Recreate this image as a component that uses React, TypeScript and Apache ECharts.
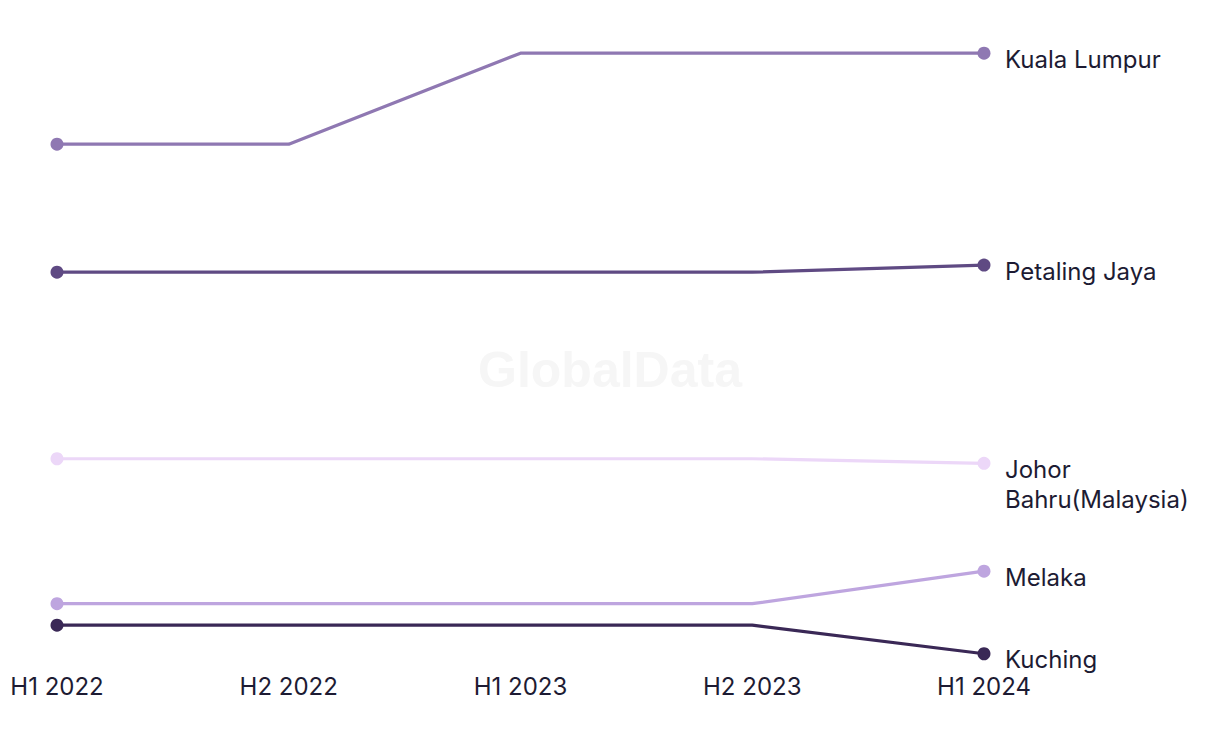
import React, { useEffect, useRef } from "react";
import * as echarts from "echarts";

const categories = ["H1 2022", "H2 2022", "H1 2023", "H2 2023", "H1 2024"];
const seriesNames = ["Kuala Lumpur", "Petaling Jaya", "Johor Bahru(Malaysia)", "Melaka", "Kuching"];
const endLabels = ["Kuala Lumpur", "Petaling Jaya", "Johor\nBahru(Malaysia)", "Melaka", "Kuching"];
const kualaLumpur = [80.9, 80.9, 94.9, 94.9, 94.9];
const petalingJaya = [61.2, 61.2, 61.2, 61.2, 62.3];
const johorBahru = [32.5, 32.5, 32.5, 32.5, 31.8];
const melaka = [10.2, 10.2, 10.2, 10.2, 15.2];
const kuching = [6.9, 6.9, 6.9, 6.9, 2.5];
const seriesValues = [kualaLumpur, petalingJaya, johorBahru, melaka, kuching];
const colors = ["#8f78b2", "#5f4a83", "#ecd7f8", "#bea5df", "#3a2856"];

const FONT = "Inter, 'Noto Sans', sans-serif";
const TEXT = "#1d1b33";

export default function App() {
  const ref = useRef<HTMLDivElement>(null);
  useEffect(() => {
    if (!ref.current) return;
    const chart = echarts.init(ref.current, undefined, { renderer: "svg" });
    chart.setOption({
      animation: false,
      backgroundColor: "#ffffff",
      graphic: [
        {
          type: "text",
          left: "center",
          top: 345,
          z: 0,
          style: {
            text: "GlobalData",
            fontSize: 50,
            fontWeight: "bold",
            fontFamily: "Arial, 'Liberation Sans', sans-serif",
            fill: "#f6f6f6",
          },
        },
      ],
      grid: { left: 57, right: 236, top: 20, height: 650 },
      xAxis: {
        type: "category",
        data: categories,
        boundaryGap: false,
        axisLine: { show: false },
        axisTick: { show: false },
        splitLine: { show: false },
        axisLabel: { color: TEXT, fontSize: 24, fontFamily: FONT, margin: 4 },
      },
      yAxis: {
        type: "value",
        min: 0,
        max: 100,
        show: false,
      },
      series: seriesValues.map((vals, i) => ({
        type: "line",
        name: seriesNames[i],
        data: vals.map((v, j) => ({
          value: v,
          symbol: j === 0 || j === vals.length - 1 ? "circle" : "none",
        })),
        symbolSize: 13,
        showSymbol: true,
        color: colors[i],
        lineStyle: { width: 3.2, color: colors[i] },
        itemStyle: { color: colors[i] },
        z: 2,
        endLabel: {
          show: true,
          formatter: () => endLabels[i],
          color: TEXT,
          fontSize: 24,
          fontFamily: FONT,
          lineHeight: 30,
          distance: 21,
          verticalAlign: "top",
          offset: [0, -9],
        },
        emphasis: { disabled: true },
      })),
    });
    return () => chart.dispose();
  }, []);
  return <div ref={ref} style={{ position: "fixed", left: 0, top: 0, width: 1220, height: 744 }} />;
}
